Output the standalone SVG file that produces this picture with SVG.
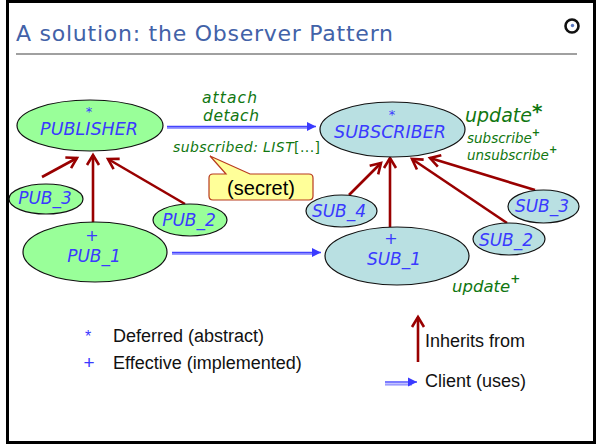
<svg xmlns="http://www.w3.org/2000/svg" width="596" height="445" viewBox="0 0 596 445">
<style>
.lbl{font-family:"DejaVu Sans",sans-serif;font-style:italic;fill:#3a3aff;text-anchor:middle}
.grn{font-family:"DejaVu Sans",sans-serif;font-style:italic;fill:#117711}
.leg{font-family:"Liberation Sans",Arial,sans-serif;font-size:18px;fill:#111}
.pub{fill:#99ff99;stroke:#111;stroke-width:1.2}
.sub{fill:#b9e0e2;stroke:#111;stroke-width:1.2}
.inh{stroke:#990000;stroke-width:2.6;fill:none;marker-end:url(#inhHead)}
.cl1{stroke:#9c9cff;stroke-width:2.2;fill:none}
.cl2{stroke:#4444ff;stroke-width:1.4;fill:none}
</style>
<defs>
<marker id="inhHead" markerUnits="userSpaceOnUse" viewBox="-14 -10 16 20" refX="0" refY="0" markerWidth="16" markerHeight="20" orient="auto" overflow="visible">
<path d="M-10,-6 L0,0 L-10,6" fill="none" stroke="#990000" stroke-width="2.6" stroke-linejoin="miter"/>
</marker>
<marker id="clHead" markerUnits="userSpaceOnUse" viewBox="-10 -6 12 12" refX="0" refY="0" markerWidth="12" markerHeight="12" orient="auto" overflow="visible">
<path d="M-9,-4.5 L0,0 L-9,4.5 Z" fill="#3a3aff"/>
</marker>
</defs>
<rect x="7.5" y="1.5" width="587" height="441" fill="#fff" stroke="#000" stroke-width="3"/>
<g id="title">
<text x="16" y="41" font-family="DejaVu Sans,sans-serif" font-size="22" fill="#4262a8" textLength="377">A solution: the Observer Pattern</text>
<line x1="16" y1="54" x2="577" y2="54" stroke="#808080" stroke-width="1.5"/>
<circle cx="572" cy="26" r="6.5" fill="none" stroke="#111" stroke-width="2.6"/>
<circle cx="572.5" cy="25.5" r="1.7" fill="#5a78c0"/>
</g>
<g id="connectors">
<line class="inh" x1="42" y1="177" x2="77" y2="158"/>
<line class="inh" x1="93" y1="223" x2="93" y2="155"/>
<line class="inh" x1="185" y1="204" x2="108" y2="159"/>
<line class="inh" x1="349" y1="195" x2="381" y2="163"/>
<line class="inh" x1="390" y1="227" x2="390" y2="158"/>
<line class="inh" x1="507" y1="223" x2="412" y2="159"/>
<line class="inh" x1="535" y1="190" x2="430" y2="158"/>
<line class="cl1" x1="167" y1="128" x2="310" y2="128"/>
<line class="cl2" x1="167" y1="126.5" x2="316" y2="126.5" marker-end="url(#clHead)"/>
<line class="cl1" x1="172" y1="254" x2="315" y2="254"/>
<line class="cl2" x1="172" y1="252.5" x2="321" y2="252.5" marker-end="url(#clHead)"/>
</g>
<g id="publisher">
<ellipse class="pub" cx="90" cy="125.5" rx="73" ry="25.5"/>
<text class="lbl" x="89" y="116" font-size="13">*</text>
<text class="lbl" x="89" y="135" font-size="17.5">PUBLISHER</text>
</g>
<g id="pub3">
<ellipse class="pub" cx="46" cy="199" rx="37" ry="15"/>
<text class="lbl" x="45" y="204" font-size="17">PUB_3</text>
</g>
<g id="pub2">
<ellipse class="pub" cx="190" cy="220" rx="37" ry="16"/>
<text class="lbl" x="189" y="226" font-size="17">PUB_2</text>
</g>
<g id="pub1">
<ellipse class="pub" cx="95" cy="252" rx="72" ry="30"/>
<text class="lbl" x="92" y="241" font-size="16">+</text>
<text class="lbl" x="94" y="262" font-size="17">PUB_1</text>
</g>
<g id="subscriber">
<ellipse class="sub" cx="392.5" cy="129.5" rx="72.5" ry="27.5"/>
<text class="lbl" x="392" y="119" font-size="13">*</text>
<text class="lbl" x="390" y="138" font-size="17.5">SUBSCRIBER</text>
</g>
<g id="sub4">
<ellipse class="sub" cx="341.5" cy="211" rx="35.5" ry="16"/>
<text class="lbl" x="339" y="217" font-size="17">SUB_4</text>
</g>
<g id="sub1">
<ellipse class="sub" cx="397" cy="256" rx="72" ry="29"/>
<text class="lbl" x="391" y="244" font-size="16">+</text>
<text class="lbl" x="394" y="265" font-size="17">SUB_1</text>
</g>
<g id="sub2">
<ellipse class="sub" cx="509" cy="239" rx="36" ry="16"/>
<text class="lbl" x="506" y="246" font-size="17">SUB_2</text>
</g>
<g id="sub3">
<ellipse class="sub" cx="543.5" cy="206.5" rx="35.5" ry="16.5"/>
<text class="lbl" x="542" y="212" font-size="17">SUB_3</text>
</g>
<g id="labels">
<text class="grn" x="202" y="102.5" font-size="15.5" textLength="55">attach</text>
<text class="grn" x="203" y="121" font-size="15.5" textLength="56">detach</text>
<text class="grn" x="173" y="152" font-size="14" textLength="147">subscribed: LIST<tspan font-style="normal">[...]</tspan></text>
<text class="grn" x="465" y="122" font-size="19">update<tspan font-size="20" font-style="normal" font-weight="bold" dy="-4">*</tspan></text>
<text class="grn" x="467" y="143" font-size="13.5">subscribe<tspan font-size="10" font-style="normal" font-weight="bold" dy="-7">+</tspan></text>
<text class="grn" x="467" y="160" font-size="13.5">unsubscribe<tspan font-size="10" font-style="normal" font-weight="bold" dy="-7">+</tspan></text>
<text class="grn" x="452" y="292" font-size="16.5">update<tspan font-size="12" font-style="normal" font-weight="bold" dy="-9">+</tspan></text>
</g>
<g id="secret">
<path d="M213,174 L226,174 L210,156 L250,174 L309,174 Q313,174 313,178 L313,196 Q313,200 309,200 L213,200 Q209,200 209,196 L209,178 Q209,174 213,174 Z" fill="#ffff99" stroke="#b83a1e" stroke-width="1.2"/>
<text x="261" y="195" font-family="Liberation Sans,Arial,sans-serif" font-size="20" fill="#000" text-anchor="middle">(secret)</text>
</g>
<g id="legend">
<text x="88" y="342" font-family="Liberation Sans,Arial,sans-serif" font-size="16" fill="#3a3aff" text-anchor="middle">*</text>
<text class="leg" x="113" y="342">Deferred (abstract)</text>
<text x="89" y="369" font-family="Liberation Sans,Arial,sans-serif" font-size="19" fill="#3a3aff" text-anchor="middle">+</text>
<text class="leg" x="113" y="369">Effective (implemented)</text>
<line class="inh" x1="418" y1="362" x2="418" y2="317"/>
<text class="leg" x="425" y="347">Inherits from</text>
<line class="cl1" x1="385" y1="384.5" x2="412" y2="384.5"/>
<line class="cl2" x1="385" y1="382" x2="417" y2="382" marker-end="url(#clHead)"/>
<text class="leg" x="425" y="387">Client (uses)</text>
</g>
</svg>
